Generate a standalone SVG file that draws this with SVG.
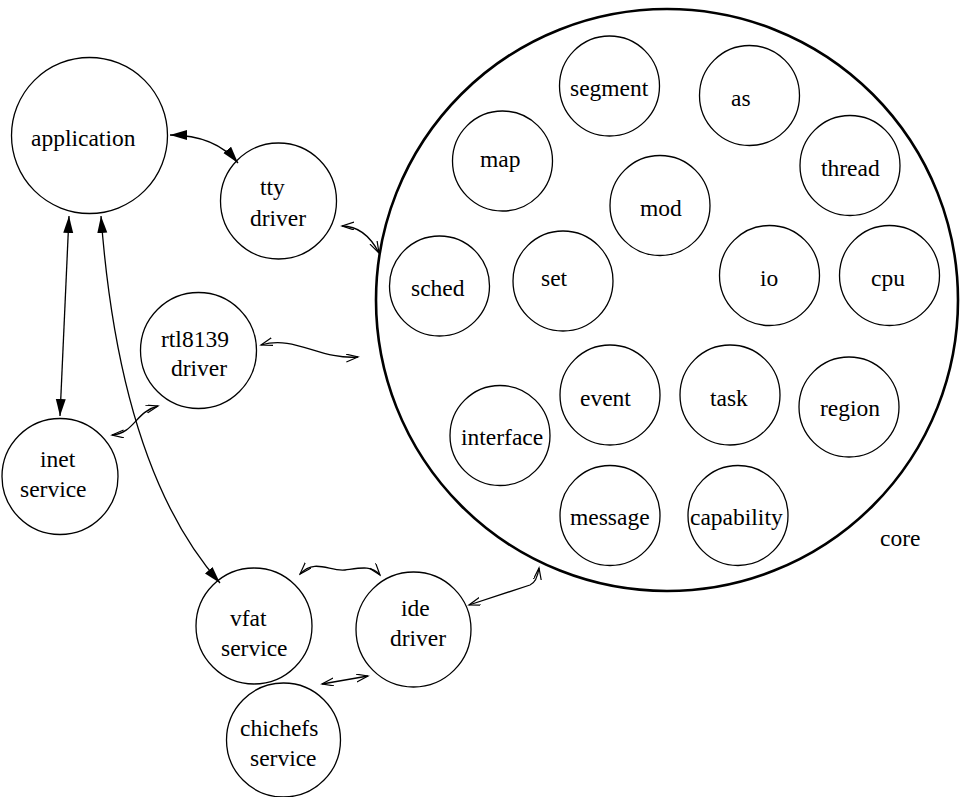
<svg xmlns="http://www.w3.org/2000/svg" width="966" height="797" viewBox="0 0 966 797">
<style>
.n{fill:none;stroke:#000;stroke-width:1.3}
.core{fill:none;stroke:#000;stroke-width:2.6}
text{font-family:'Liberation Serif','DejaVu Serif',serif;font-size:23.5px;fill:#000}
.c{fill:none;stroke:#000;stroke-width:1.3}
</style>
<defs>
<marker id="fa" markerWidth="20" markerHeight="12" refX="17" refY="5" orient="auto-start-reverse" markerUnits="userSpaceOnUse"><path d="M0,0 L17,5 L0,10 z" fill="#000"/></marker>
<marker id="oa" markerWidth="14" markerHeight="10" refX="12" refY="4" orient="auto-start-reverse" markerUnits="userSpaceOnUse"><path d="M0,0 L12,4 L0,8" fill="none" stroke="#000" stroke-width="1.2"/></marker>
</defs>
<rect width="966" height="797" fill="#fff"/>
<g font-family="Liberation Serif, DejaVu Serif, serif">
<g id="core"><circle class="core" cx="667" cy="300" r="291"/><text x="880" y="546">core</text></g>
<g id="segment"><circle class="n" cx="609.5" cy="86" r="50"/><text x="570" y="96">segment</text></g>
<g id="as"><circle class="n" cx="749.5" cy="95.5" r="50"/><text x="731" y="106">as</text></g>
<g id="map"><circle class="n" cx="502.5" cy="161" r="50"/><text x="480" y="167">map</text></g>
<g id="thread"><circle class="n" cx="850" cy="165.5" r="50"/><text x="821" y="176">thread</text></g>
<g id="mod"><circle class="n" cx="660" cy="205.5" r="50"/><text x="640" y="216">mod</text></g>
<g id="sched"><circle class="n" cx="439.5" cy="286" r="50"/><text x="411" y="296">sched</text></g>
<g id="set"><circle class="n" cx="563" cy="281" r="50"/><text x="541" y="286">set</text></g>
<g id="io"><circle class="n" cx="769.5" cy="275.5" r="50"/><text x="760" y="286">io</text></g>
<g id="cpu"><circle class="n" cx="889.5" cy="275.5" r="50"/><text x="871" y="286">cpu</text></g>
<g id="event"><circle class="n" cx="610" cy="395" r="50"/><text x="580" y="406">event</text></g>
<g id="task"><circle class="n" cx="730" cy="395" r="50"/><text x="710" y="406">task</text></g>
<g id="region"><circle class="n" cx="849" cy="407" r="50"/><text x="820" y="416">region</text></g>
<g id="interface"><circle class="n" cx="500" cy="435.5" r="50"/><text x="461" y="445">interface</text></g>
<g id="message"><circle class="n" cx="610" cy="515.5" r="50"/><text x="570" y="525">message</text></g>
<g id="capability"><circle class="n" cx="738" cy="515.5" r="50"/><text x="690" y="525">capability</text></g>
<g id="application"><circle class="n" cx="89.5" cy="135.5" r="78"/><text x="31" y="146">application</text></g>
<g id="tty"><circle class="n" cx="278.5" cy="201" r="58"/><text x="260" y="195">tty</text><text x="250" y="226">driver</text></g>
<g id="rtl8139"><circle class="n" cx="198.5" cy="350.5" r="58"/><text x="161" y="347">rtl8139</text><text x="171" y="376">driver</text></g>
<g id="inet"><circle class="n" cx="60" cy="476.5" r="58"/><text x="40" y="467">inet</text><text x="20" y="497">service</text></g>
<g id="vfat"><circle class="n" cx="254" cy="626" r="58"/><text x="230" y="626">vfat</text><text x="221" y="656">service</text></g>
<g id="ide"><circle class="n" cx="413.5" cy="629.5" r="57.5"/><text x="401" y="616">ide</text><text x="390" y="646">driver</text></g>
<g id="chichefs"><circle class="n" cx="283.5" cy="740" r="57"/><text x="240" y="736">chichefs</text><text x="250" y="766">service</text></g>
</g>
<g id="connectors">
<path class="c" d="M170,135 Q215,135 238,163" marker-start="url(#fa)" marker-end="url(#fa)"/>
<path class="c" d="M69,216 L60,416" marker-start="url(#fa)" marker-end="url(#fa)"/>
<path class="c" d="M101,216 Q120,470 220,583" marker-start="url(#fa)" marker-end="url(#fa)"/>
<path class="c" d="M342,226 Q365,226 379,253" marker-start="url(#oa)" marker-end="url(#oa)"/>
<path class="c" d="M261,345 C295,335 320,360 358,357" marker-start="url(#oa)" marker-end="url(#oa)"/>
<path class="c" d="M112,435 C135,433 135,412 158,406" marker-start="url(#oa)" marker-end="url(#oa)"/>
<path class="c" d="M300,574 C315,558 330,572 345,570 C360,568 372,565 380,575" marker-start="url(#oa)" marker-end="url(#oa)"/>
<path class="c" d="M469,605 L530,585 Q537,582 539,568" marker-start="url(#oa)" marker-end="url(#oa)"/>
<path class="c" d="M322,684 L368,676" marker-start="url(#oa)" marker-end="url(#oa)"/>
</g>
</svg>
